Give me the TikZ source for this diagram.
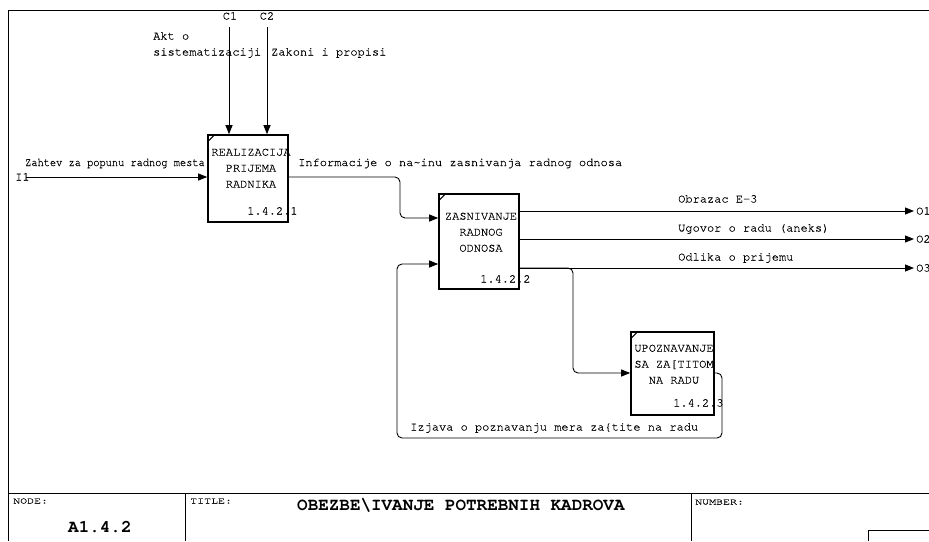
\documentclass[tikz,border=0pt]{standalone}
\usepackage{fontspec}
\newfontfamily\cour[FakeBold=0.35]{TeX Gyre Cursor}
\newfontfamily\courbf{TeX Gyre Cursor Bold}
\usetikzlibrary{arrows.meta}
\begin{document}
\begin{tikzpicture}[x=1pt,y=-1pt,
  txt/.style={font=\cour\fontsize{12}{16}\selectfont, inner sep=0pt, text height=7pt, text depth=0pt},
  lbl/.style={txt, anchor=west},
  boxtxt/.style={font=\cour\fontsize{12}{16}\selectfont, inner sep=0pt, align=center, anchor=north},
  small/.style={font=\cour\fontsize{8.8}{9}\selectfont, inner sep=0pt, text height=5pt, text depth=0pt, anchor=west},
  big/.style={font=\courbf\fontsize{17.6}{18}\selectfont, inner sep=0pt, text height=10pt, text depth=0pt, anchor=west},
  act/.style={draw, line width=1.6pt, inner sep=0pt},
  frame/.style={line width=1pt},
  flow/.style={line width=0.9pt, -{Triangle[length=9pt,width=7pt]}, rounded corners=5pt},
  corner/.style={line width=1pt}
]
\useasboundingbox (0,0) rectangle (929,541);

% outer frame and title block
\draw[frame] (929,10) -- (8,10) -- (8,541);
\draw[frame] (8,493) -- (929,493);
\draw[frame] (185,493) -- (185,541);
\draw[frame] (691,493) -- (691,541);
\draw[frame] (868,541) -- (868,530) -- (929,530);
\node[small] (nodelbl) at (13,501) {\scalebox{1.32}[1]{NODE:}};
\node[small] (titlelbl) at (190,501) {\scalebox{1.32}[1]{TITLE:}};
\node[small] (numlbl) at (695,502) {\scalebox{1.32}[1]{NUMBER:}};
\node[big] (nodeid) at (68,527) {A1.4.2};
\node[big] (title) at (297,505) {OBEZBE\textbackslash IVANJE POTREBNIH KADROVA};

% activity boxes
\node[act, minimum width=80pt, minimum height=87pt] (b1) at (248,178.5) {};
\node[act, minimum width=80pt, minimum height=95pt] (b2) at (479,241.5) {};
\node[act, minimum width=83pt, minimum height=83pt] (b3) at (672.5,373.5) {};
\draw[corner] ([yshift=-8pt]b1.north west) -- ([xshift=8pt]b1.north west);
\draw[corner] ([yshift=-8pt]b2.north west) -- ([xshift=8pt]b2.north west);
\draw[corner] ([yshift=-8pt]b3.north west) -- ([xshift=8pt]b3.north west);

\node[boxtxt] (b1t) at (251,148.5) {REALIZACIJA\\PRIJEMA\\RADNIKA};
\node[lbl] (b1n) at (247,211) {1.4.2.1};
\node[boxtxt] (b2t) at (481,212.5) {ZASNIVANJE\\RADNOG\\ODNOSA};
\node[lbl] (b2n) at (480,279) {1.4.2.2};
\node[boxtxt] (b3t) at (674,344.5) {UPOZNAVANJE\\SA ZA[TITOM\\NA RADU};
\node[lbl] (b3n) at (673,403) {1.4.2.3};

% controls
\node[txt] (c1l) at (230,16) {C1};
\node[txt] (c2l) at (267,16) {C2};
\coordinate (c1s) at (229,27);
\coordinate (c2s) at (267,27);
\draw[flow] (c1s) -- (c1s |- b1.north);
\draw[flow] (c2s) -- (c2s |- b1.north);
\node[lbl] (akt1) at (153,36) {Akt o};
\node[lbl] (akt2) at (153,52) {sistematizaciji};
\node[lbl] (zak) at (271,52) {Zakoni i propisi};

% input
\node[lbl] (i1l) at (15,177) {I1};
\coordinate (i1s) at (26,177);
\draw[flow] (i1s) -- (i1s -| b1.west);
\node[lbl] (zahtev) at (25,162.5) {\scalebox{0.86}[1]{Zahtev za popunu radnog mesta}};

% box 1 to box 2
\coordinate (b1o) at (b1.east |- 0,177);
\coordinate (b2i1) at (b2.west |- 0,218);
\draw[flow] (b1o) -- (400,177) -- (400,218) -- (b2i1);
\node[lbl] (info) at (298,162.5) {Informacije o na\textasciitilde inu zasnivanja radnog odnosa};

% outputs
\coordinate (o1) at (914,211);
\coordinate (o2) at (914,239);
\coordinate (o3) at (914,268);
\draw[flow] (o1 -| b2.east) -- (o1);
\draw[flow] (o2 -| b2.east) -- (o2);
\draw[flow] (o3 -| b2.east) -- (o3);
\node[lbl] (o1l) at (916,211) {O1};
\node[lbl] (o2l) at (916,239) {O2};
\node[lbl] (o3l) at (916,268) {O3};
\node[lbl] (obr) at (678,199) {Obrazac E-3};
\node[lbl] (ugo) at (678,228) {Ugovor o radu (aneks)};
\node[lbl] (odl) at (678,257) {Odlika o prijemu};

% branch to box 3
\coordinate (b3i) at (b3.west |- 0,373);
\draw[flow] (o3 -| b2.east) -- (573,268) -- (573,373) -- (b3i);

% feedback from box 3 to box 2
\coordinate (b3o) at (b3.east |- 0,373);
\coordinate (b2i2) at (b2.west |- 0,264);
\draw[flow] (b3o) -- (722,373) -- (722,438) -- (397,438) -- (397,264) -- (b2i2);
\node[lbl] (izj) at (410,427) {Izjava o poznavanju mera za\{tite na radu};

\end{tikzpicture}
\end{document}
